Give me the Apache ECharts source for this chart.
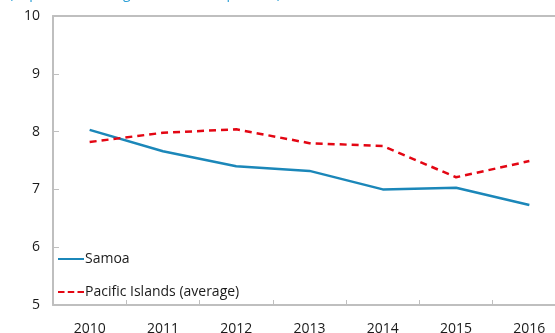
<!DOCTYPE html>
<html>
<head>
<meta charset="utf-8">
<script src="https://cdn.jsdelivr.net/npm/echarts@6/dist/echarts.min.js"></script>
<style>
  html, body { margin: 0; padding: 0; background: #fff; }
</style>
</head>
<body>
<div id="lineChart" style="width:555px;height:333px;"></div>
<script>
// years on the x axis
let years = ['2010', '2011', '2012', '2013', '2014', '2015', '2016'];
// percent values
let samoa = [8.03, 7.66, 7.40, 7.32, 7.00, 7.03, 6.73];
let pacificAvg = [7.82, 7.98, 8.04, 7.80, 7.75, 7.21, 7.49];

let default_color = {
  tc: '#1a1a1a',
  axis: '#bfbfbf',
  samoa: '#1b87b9',
  pacific: '#e30613',
  title: '#2a9fd6'
};
let fontName = '"Open Sans", "Noto Sans", sans-serif';

function drawChart(color, id) {
  let option = {
    animation: false,
    title: {
      text: '(In percent; average tariff rate, in percent)',
      left: 4,
      top: -18,
      textStyle: { color: color.title, fontSize: 14, fontWeight: 'normal', fontFamily: fontName }
    },
    legend: {
      orient: 'vertical',
      left: 53,
      top: 247,
      itemGap: 19,
      itemWidth: 26,
      itemHeight: 10,
      icon: 'none',
      data: [
        { name: 'Samoa', icon: 'path://M0,4 L26,4 L26,6 L0,6 Z' },
        { name: 'Pacific Islands (average)', icon: 'path://M0,4 L6,4 L6,6 L0,6 Z M9,4 L15,4 L15,6 L9,6 Z M18,4 L24,4 L24,6 L18,6 Z' }
      ],
      textStyle: { color: color.tc, fontSize: 14, fontFamily: fontName, padding: [0, 0, 0, -4] }
    },
    grid: {
      left: 53,
      right: -11,
      top: 16,
      bottom: 28,
      outerBoundsMode: 'none'
    },
    xAxis: [{
      type: 'category',
      data: years,
      boundaryGap: true,
      axisLine: { lineStyle: { color: color.axis, width: 2 } },
      axisTick: { show: true, inside: true, length: 5, lineStyle: { color: color.axis } },
      axisLabel: { color: color.tc, fontSize: 14, margin: 17, fontFamily: fontName }
    }, {
      type: 'category',
      position: 'top',
      data: years,
      axisLine: { lineStyle: { color: color.axis, width: 2 } },
      axisTick: { show: false },
      axisLabel: { show: false }
    }],
    yAxis: {
      type: 'value',
      min: 5,
      max: 10,
      interval: 1,
      splitLine: { show: false },
      axisLine: { show: true, lineStyle: { color: color.axis, width: 2 } },
      axisTick: { show: true, inside: true, length: 6, lineStyle: { color: color.axis } },
      axisLabel: { color: color.tc, fontSize: 14, margin: 13, fontFamily: fontName }
    },
    series: [{
      name: 'Samoa',
      type: 'line',
      data: samoa,
      symbol: 'none',
      lineStyle: { color: color.samoa, width: 2.5 },
      itemStyle: { color: color.samoa }
    }, {
      name: 'Pacific Islands (average)',
      type: 'line',
      data: pacificAvg,
      symbol: 'none',
      lineStyle: { color: color.pacific, width: 2.5, type: [7, 5] },
      itemStyle: { color: color.pacific }
    }]
  };
  let chart = echarts.init(document.getElementById(id));
  chart.setOption(option);
}

drawChart(default_color, 'lineChart');
</script>
</body>
</html>
